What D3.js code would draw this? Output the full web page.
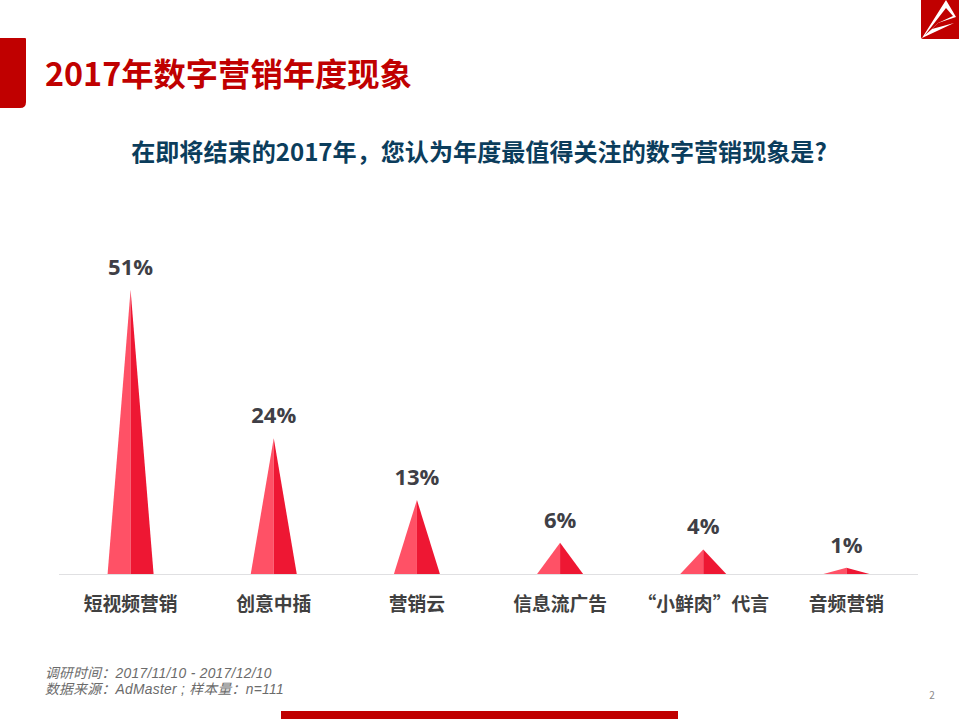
<!DOCTYPE html>
<html><head><meta charset="utf-8">
<script src="https://cdn.jsdelivr.net/npm/d3@7/dist/d3.min.js"></script>
<style>
html,body{margin:0;padding:0;background:#fff;overflow:hidden}
svg{display:block}
text{font-family:"Noto Sans CJK SC","Open Sans",sans-serif}
</style></head><body>
<svg id="c" width="959" height="719"></svg>
<script>
const categories=["短视频营销","创意中插","营销云","信息流广告","“小鲜肉”代言","音频营销"];
const percentValues=[51,24.4,13.3,5.6,4.4,1.1];
const pageTitle="2017年数字营销年度现象";
const question="在即将结束的2017年，您认为年度最值得关注的数字营销现象是?";
const footnotes=["调研时间：2017/11/10 - 2017/12/10","数据来源：AdMaster ; 样本量：n=111"];
const pageNumber="2";

const svg=d3.select("#c");
const red="#c00000";
const x=d3.scaleBand().domain(categories).range([59,918]);
const y=d3.scaleLinear().domain([0,51]).range([574,290]);
const halfW=23;
const fmt=v=>Math.round(v)+"%";

// page furniture
svg.append("path").attr("d","M0,38H25Q26,38 26,39V102Q26,108 20,108H0Z").attr("fill",red);
svg.append("text").attr("x",45).attr("y",86).attr("font-size",32.3).attr("font-weight",700).attr("fill",red).text(pageTitle);
svg.append("text").attr("x",479).attr("y",161).attr("text-anchor","middle").attr("font-size",24.1).attr("font-weight",700).attr("fill","#0b3d5c").text(question);

// logo
const logo=svg.append("g");
logo.append("rect").attr("x",921).attr("y",-3).attr("width",41).attr("height",42).attr("rx",2).attr("fill",red);
logo.append("path").attr("d","M922,38L946,0L956,17L938,23L932,29L954,23L937,31Z").attr("fill","#fff");
logo.append("path").attr("d","M946,8L953,16L938,23L932,29L925,35Z").attr("fill",red);

// axis baseline
svg.append("line").attr("x1",59).attr("x2",918).attr("y1",574.5).attr("y2",574.5).attr("stroke","#e0e0e2").attr("stroke-width",1);

// cones
const g=svg.append("g").selectAll("g").data(categories).join("g");
const cx=(d)=>x(d)+x.bandwidth()/2;
g.append("path").attr("fill","#ff5166").attr("d",(d,i)=>`M${cx(d)-halfW},${y(0)}L${cx(d)},${y(percentValues[i])}L${cx(d)},${y(0)}Z`);
g.append("path").attr("fill","#ee1733").attr("d",(d,i)=>`M${cx(d)+halfW},${y(0)}L${cx(d)},${y(percentValues[i])}L${cx(d)},${y(0)}Z`);
g.append("text").attr("x",cx).attr("y",(d,i)=>y(percentValues[i])-15).attr("text-anchor","middle")
 .attr("font-size",22).attr("font-weight",700).attr("fill","#3f3f46").style("font-family","'Open Sans',sans-serif")
 .text((d,i)=>fmt(percentValues[i]));
g.append("text").attr("x",cx).attr("y",611).attr("text-anchor","middle")
 .attr("font-size",18.8).attr("font-weight",700).attr("fill","#404040").text(d=>d);

// footnotes
svg.append("g").selectAll("text").data(footnotes).join("text")
 .attr("x",45).attr("y",(d,i)=>678+i*16).attr("font-size",13.8).attr("font-style","italic").attr("fill","#6b6b6b")
 .style("font-family","'Liberation Sans','Noto Sans CJK SC',sans-serif").style("letter-spacing","0.3px").text(d=>d);
svg.append("text").attr("x",932).attr("y",699).attr("text-anchor","middle").attr("font-size",10).attr("fill","#8a8a8a").text(pageNumber);
svg.append("rect").attr("x",281).attr("y",711).attr("width",397).attr("height",8).attr("fill",red);
</script>
</body></html>
